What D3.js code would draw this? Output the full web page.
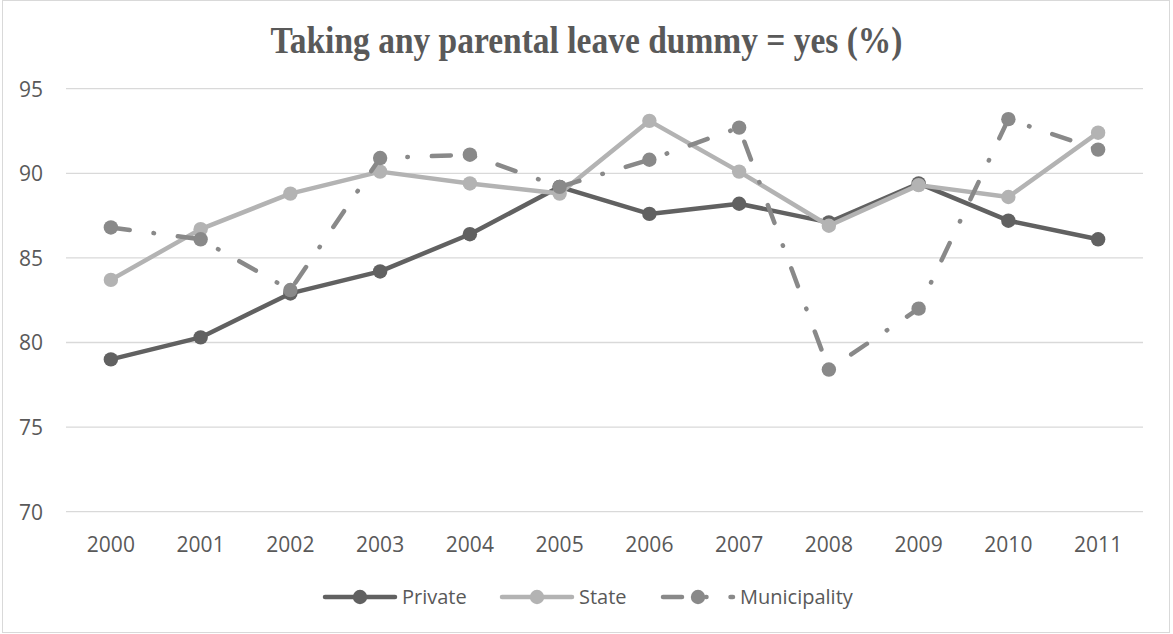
<!DOCTYPE html>
<html>
<head>
<meta charset="utf-8">
<script src="https://cdn.jsdelivr.net/npm/d3@7"></script>
<style>
  html, body { margin: 0; padding: 0; background: #fff; }
  svg { display: block; }
</style>
</head>
<body>
<div id="chart"></div>
<script>
// ---- data ----
const years = ["2000","2001","2002","2003","2004","2005","2006","2007","2008","2009","2010","2011"];
const privateVals = [79.0, 80.3, 82.9, 84.2, 86.4, 89.2, 87.6, 88.2, 87.1, 89.4, 87.2, 86.1];
const stateVals = [83.7, 86.7, 88.8, 90.1, 89.4, 88.8, 93.1, 90.1, 86.9, 89.3, 88.6, 92.4];
const municipalityVals = [86.8, 86.1, 83.1, 90.9, 91.1, 89.2, 90.8, 92.7, 78.4, 82.0, 93.2, 91.4];
const yTicks = [70, 75, 80, 85, 90, 95];
const seriesNames = ["Private", "State", "Municipality"];
const titleText = "Taking any parental leave dummy = yes (%)";

// ---- layout ----
const W = 1173, H = 634;
const plot = { left: 66, right: 1143, top: 88.7, bottom: 511.7 };
const textColor = "#595959";
const fontSans = "'Open Sans', 'Noto Sans', sans-serif";

const svg = d3.select("#chart").append("svg").attr("width", W).attr("height", H);

// chart border
svg.append("rect").attr("x", 2.5).attr("y", 0.5).attr("width", 1167).attr("height", 632)
  .attr("fill", "#fff").attr("stroke", "#d9d9d9").attr("stroke-width", 1);

const x = d3.scaleBand().domain(years).range([plot.left, plot.right]).padding(0);
const y = d3.scaleLinear().domain([70, 95]).range([plot.bottom, plot.top]);
const cx = d => x(d) + x.bandwidth() / 2;

// gridlines
svg.append("g").selectAll("line").data(yTicks).join("line")
  .attr("x1", plot.left).attr("x2", plot.right)
  .attr("y1", d => y(d)).attr("y2", d => y(d))
  .attr("stroke", "#d9d9d9").attr("stroke-width", 1.3);

// y axis labels
const yAxis = d3.axisLeft(y).tickValues(yTicks).tickSize(0).tickPadding(0).tickFormat(d3.format("d"));
const gy = svg.append("g").attr("transform", "translate(43,0)").call(yAxis);
gy.select(".domain").remove();
gy.selectAll("text").attr("font-family", fontSans).attr("font-size", 21).attr("fill", textColor).attr("dy", "0.35em");

// x axis labels
const xAxis = d3.axisBottom(x).tickSize(0).tickPadding(0);
const gx = svg.append("g").attr("transform", `translate(0,${plot.bottom})`).call(xAxis);
gx.select(".domain").remove();
gx.selectAll("text").attr("font-family", fontSans).attr("font-size", 21).attr("fill", textColor)
  .attr("dy", null).attr("y", 40);

// title
svg.append("text").attr("x", W / 2).attr("y", 53).attr("text-anchor", "middle")
  .attr("font-family", "'Liberation Serif', 'DejaVu Serif', serif").attr("font-weight", "bold")
  .attr("font-size", 37).attr("fill", textColor)
  .attr("textLength", 632).attr("lengthAdjust", "spacingAndGlyphs")
  .text(titleText);

const series = [
  { name: seriesNames[0], values: privateVals, color: "#616161", dash: null },
  { name: seriesNames[1], values: stateVals, color: "#b3b3b3", dash: null },
  { name: seriesNames[2], values: municipalityVals, color: "#898989", dash: "19,24,0.5,24" }
];

const line = d3.line().x((d, i) => cx(years[i])).y(d => y(d));

series.forEach(s => {
  const g = svg.append("g");
  g.append("path").datum(s.values).attr("d", line)
    .attr("fill", "none").attr("stroke", s.color).attr("stroke-width", 4.5)
    .attr("stroke-linejoin", "round").attr("stroke-linecap", "round")
    .attr("stroke-dasharray", s.dash);
  g.selectAll("circle").data(s.values).join("circle")
    .attr("cx", (d, i) => cx(years[i])).attr("cy", d => y(d)).attr("r", 7.2)
    .attr("fill", s.color);
});

// legend
const legendY = 597;
const legendItems = [
  { s: series[0], x0: 325 },
  { s: series[1], x0: 502 },
  { s: series[2], x0: 663 }
];
legendItems.forEach(it => {
  const g = svg.append("g");
  g.append("line").attr("x1", it.x0).attr("x2", it.x0 + 70).attr("y1", legendY).attr("y2", legendY)
    .attr("stroke", it.s.color).attr("stroke-width", 4.5).attr("stroke-linecap", "round")
    .attr("stroke-dasharray", it.s.dash);
  g.append("circle").attr("cx", it.x0 + 35).attr("cy", legendY).attr("r", 7.2).attr("fill", it.s.color);
  g.append("text").attr("x", it.x0 + 77).attr("y", legendY).attr("dy", "0.35em")
    .attr("font-family", fontSans).attr("font-size", 20).attr("fill", textColor)
    .text(it.s.name);
});
</script>
</body>
</html>
